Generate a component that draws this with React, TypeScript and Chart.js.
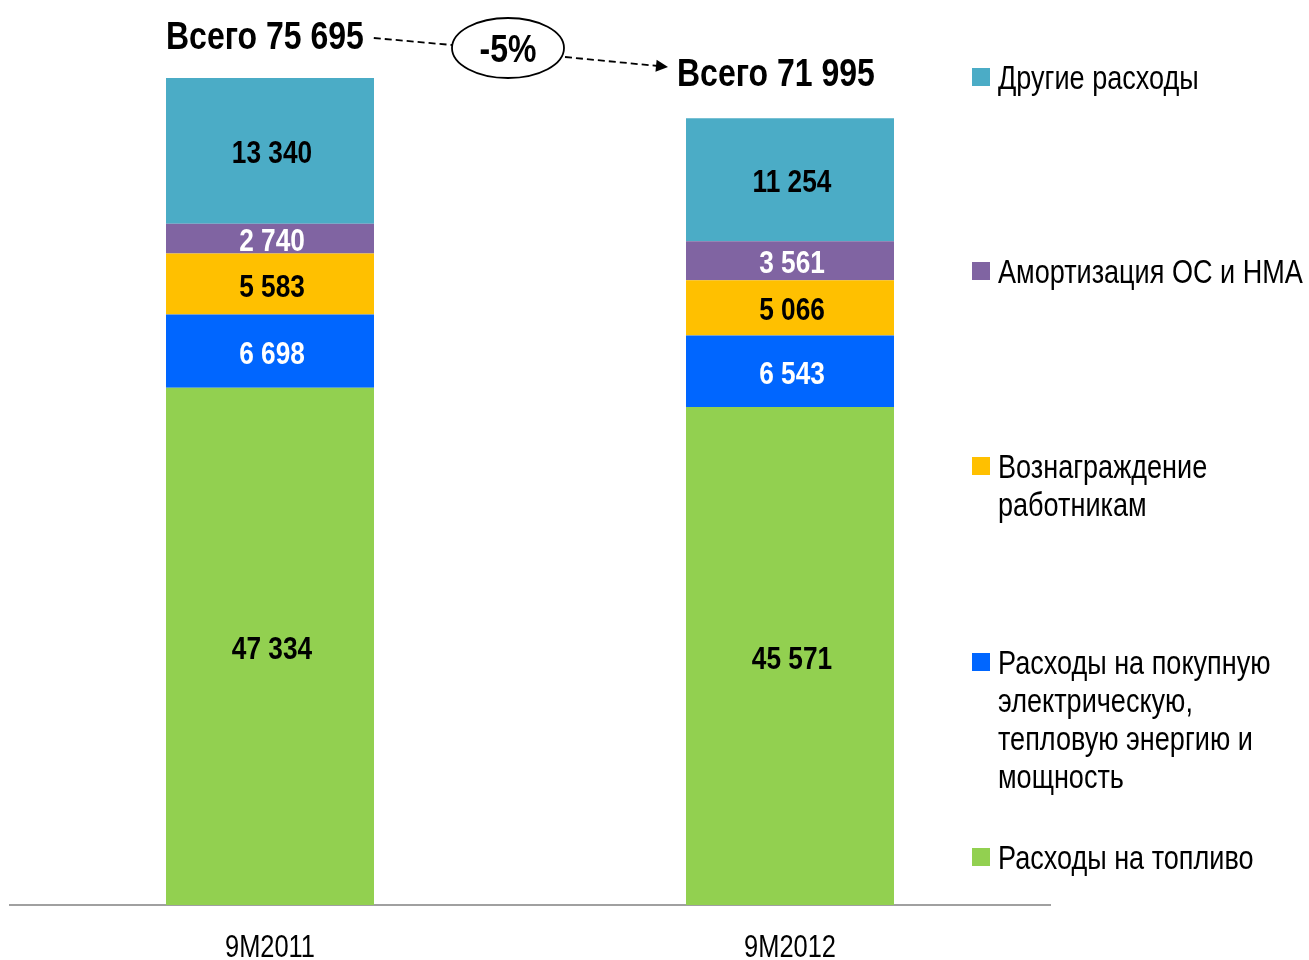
import React, { useEffect, useRef } from "react";
import { Chart, registerables } from "chart.js";

Chart.register(...registerables);

const categories = ["9M2011", "9M2012"];
const fuel = [47334, 45571];
const purchased = [6698, 6543];
const wages = [5583, 5066];
const amort = [2740, 3561];
const other = [13340, 11254];
const totals = [75695, 71995];
const changeLabel = "-5%";

const seriesNames = [
  "Расходы на топливо",
  "Расходы на покупную электрическую, тепловую энергию и мощность",
  "Вознаграждение работникам",
  "Амортизация ОС и НМА",
  "Другие расходы",
];
const colors = ["#92D050", "#0066FF", "#FFC000", "#8064A2", "#4BACC6"];
const labelColors = ["#000000", "#FFFFFF", "#000000", "#FFFFFF", "#000000"];

const legendItems = [
  { lines: ["Другие расходы"], color: "#4BACC6", top: 59 },
  { lines: ["Амортизация ОС и НМА"], color: "#8064A2", top: 253 },
  { lines: ["Вознаграждение", "работникам"], color: "#FFC000", top: 448 },
  {
    lines: ["Расходы на покупную", "электрическую,", "тепловую энергию и", "мощность"],
    color: "#0066FF",
    top: 644,
  },
  { lines: ["Расходы на топливо"], color: "#92D050", top: 839 },
];

const FONT = "'Liberation Sans', Arial, sans-serif";
const NARROW = 0.82;

const fmt = (v: number) => String(v).replace(/\B(?=(\d{3})+(?!\d))/g, " ");

function narrowText(ctx: any, text: string, x: number, y: number, align: string) {
  ctx.save();
  ctx.translate(x, y);
  ctx.scale(NARROW, 1);
  ctx.textAlign = align;
  ctx.fillText(text, 0, 0);
  ctx.restore();
}

const valueLabels = {
  id: "valueLabels",
  afterDatasetsDraw(chart: any) {
    const ctx = chart.ctx;
    ctx.save();
    ctx.font = `bold 32px ${FONT}`;
    ctx.textBaseline = "alphabetic";
    chart.data.datasets.forEach((ds: any, di: number) => {
      const meta = chart.getDatasetMeta(di);
      meta.data.forEach((bar: any, i: number) => {
        const { x, y, base } = bar.getProps(["x", "y", "base"], true);
        ctx.fillStyle = labelColors[di];
        narrowText(ctx, fmt(ds.data[i]), x + 2, (y + base) / 2 + 12.5, "center");
      });
    });
    // category labels
    const xs = chart.scales.x;
    ctx.font = `31px ${FONT}`;
    ctx.fillStyle = "#000";
    categories.forEach((c, i) => {
      narrowText(ctx, c, xs.getPixelForValue(i), 957, "center");
    });
    ctx.restore();
  },
};

const totalsPlugin = {
  id: "totalsPlugin",
  afterDraw(chart: any) {
    const ctx = chart.ctx;
    const meta = chart.getDatasetMeta(chart.data.datasets.length - 1);
    const b0 = meta.data[0].getProps(["x", "y", "width"], true);
    const b1 = meta.data[1].getProps(["x", "y", "width"], true);
    ctx.save();
    ctx.font = `bold 39px ${FONT}`;
    ctx.fillStyle = "#000";
    ctx.textBaseline = "alphabetic";
    const t1 = "Всего " + fmt(totals[0]);
    const t2 = "Всего " + fmt(totals[1]);
    const x1 = b0.x - b0.width / 2;
    const y1 = b0.y - 29;
    const x2 = b1.x - b1.width / 2 - 9;
    const y2 = b1.y - 32;
    narrowText(ctx, t1, x1, y1, "left");
    narrowText(ctx, t2, x2, y2, "left");
    const w1 = ctx.measureText(t1).width * NARROW;

    // ellipse
    const ex = 508, ey = 48, rx = 56, ry = 30;
    ctx.lineWidth = 1.8;
    ctx.strokeStyle = "#000";
    ctx.beginPath();
    ctx.ellipse(ex, ey, rx, ry, 0, 0, Math.PI * 2);
    ctx.stroke();
    narrowText(ctx, changeLabel, ex, ey + 14, "center");

    // dashed lines
    ctx.setLineDash([7, 4]);
    ctx.lineWidth = 1.8;
    ctx.beginPath();
    ctx.moveTo(x1 + w1 + 10, 38);
    ctx.lineTo(ex - rx, ey - 3);
    ctx.stroke();
    const tipX = x2 - 9, tipY = 67;
    const sx = ex + rx + 1, sy = ey + 9;
    ctx.beginPath();
    ctx.moveTo(sx, sy);
    ctx.lineTo(tipX - 10, tipY - 1);
    ctx.stroke();
    ctx.setLineDash([]);
    const ang = Math.atan2(tipY - sy, tipX - sx);
    ctx.beginPath();
    ctx.moveTo(tipX, tipY);
    ctx.lineTo(tipX - 12 * Math.cos(ang) + 6 * Math.sin(ang), tipY - 12 * Math.sin(ang) - 6 * Math.cos(ang));
    ctx.lineTo(tipX - 12 * Math.cos(ang) - 6 * Math.sin(ang), tipY - 12 * Math.sin(ang) + 6 * Math.cos(ang));
    ctx.closePath();
    ctx.fillStyle = "#000";
    ctx.fill();
    ctx.restore();
  },
};

export default function App() {
  const ref = useRef<HTMLCanvasElement | null>(null);
  useEffect(() => {
    if (!ref.current) return;
    const seriesData = [fuel, purchased, wages, amort, other];
    const chart = new Chart(ref.current, {
      type: "bar",
      data: {
        labels: categories,
        datasets: seriesData.map((d, i) => ({
          label: seriesNames[i],
          data: d,
          backgroundColor: colors[i],
          borderWidth: 0,
          barPercentage: 0.4,
          categoryPercentage: 1,
        })),
      },
      options: {
        animation: false,
        responsive: false,
        maintainAspectRatio: false,
        layout: { padding: { left: 10, right: 259, top: 9, bottom: 0 } },
        plugins: { legend: { display: false }, tooltip: { enabled: false } },
        scales: {
          x: {
            stacked: true,
            grid: { display: false, drawTicks: false },
            border: { display: true, color: "#A0A0A0", width: 2 },
            ticks: { display: false },
            afterFit: (scale: any) => {
              scale.height = 55;
            },
          },
          y: {
            stacked: true,
            display: false,
            min: 0,
            max: 82000,
          },
        },
      },
      plugins: [valueLabels, totalsPlugin],
    });
    return () => chart.destroy();
  }, []);

  return (
    <div style={{ position: "absolute", left: 0, top: 0, width: 1309, height: 960, background: "#fff" }}>
      <canvas ref={ref} width={1309} height={960} style={{ position: "absolute", left: 0, top: 0 }} />
      {legendItems.map((it, i) => (
        <div key={i} style={{ position: "absolute", left: 972, top: it.top }}>
          <div
            style={{ position: "absolute", left: 0, top: 9, width: 18, height: 18, background: it.color }}
          />
          <div
            style={{
              position: "absolute",
              left: 26,
              top: 0,
              fontFamily: FONT,
              fontSize: 33,
              lineHeight: "38px",
              color: "#000",
              whiteSpace: "nowrap",
              transform: `scaleX(${NARROW})`,
              transformOrigin: "0 0",
            }}
          >
            {it.lines.map((l, j) => (
              <div key={j}>{l}</div>
            ))}
          </div>
        </div>
      ))}
    </div>
  );
}
